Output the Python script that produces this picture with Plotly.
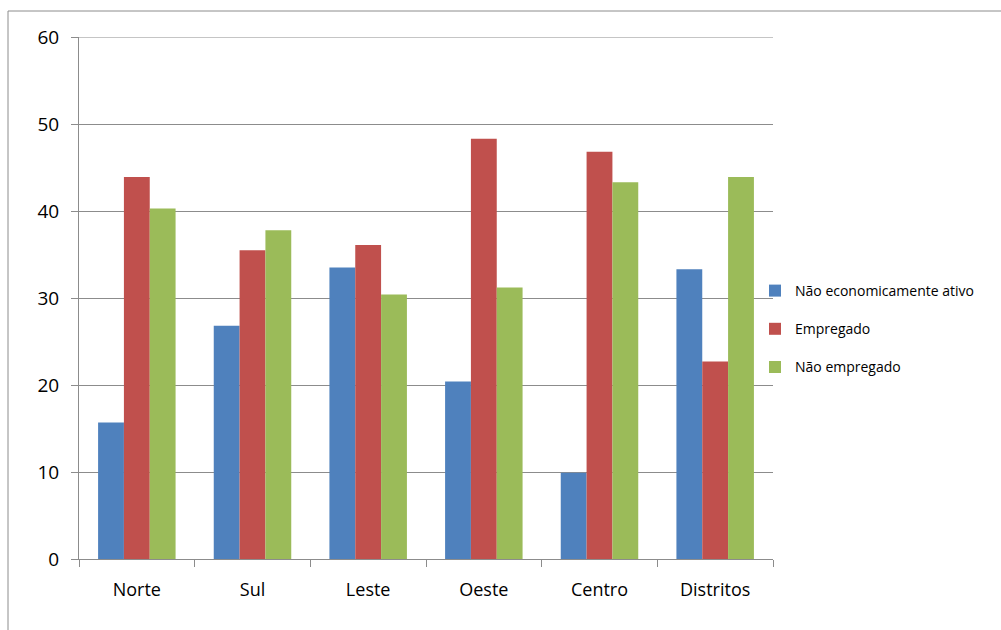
import plotly.graph_objects as go

categories = ["Norte", "Sul", "Leste", "Oeste", "Centro", "Distritos"]
nao_econ_ativo = [15.7, 26.8, 33.5, 20.4, 9.9, 33.3]
empregado = [43.9, 35.5, 36.1, 48.3, 46.8, 22.7]
nao_empregado = [40.3, 37.8, 30.4, 31.2, 43.3, 43.9]
y_ticks = [0, 10, 20, 30, 40, 50, 60]

series = [
    ("Não economicamente ativo", nao_econ_ativo, "#4F81BD"),
    ("Empregado", empregado, "#C0504D"),
    ("Não empregado", nao_empregado, "#9BBB59"),
]

fig = go.Figure()
for i, (name, vals, color) in enumerate(series):
    fig.add_trace(go.Bar(
        x=categories, y=vals, name=name,
        marker=dict(color=color, line=dict(width=0)),
        legendgroup=f"g{i}",
    ))

W, H = 1001, 630
L, R, T, B = 79, 228, 37, 71
pw, ph = W - L - R, H - T - B

def px_x(x):
    return (x - L) / pw

def px_y(y):
    return (H - B - y) / ph

GRID = "#8C8C8C"

fig.update_layout(
    width=W, height=H,
    margin=dict(l=L, r=R, t=T, b=B),
    paper_bgcolor="white", plot_bgcolor="white",
    barmode="group", bargap=0.33, bargroupgap=0,
    font=dict(family="Open Sans, sans-serif", color="#000000"),
    legend=dict(
        x=px_x(755), y=px_y(275), xanchor="left", yanchor="top",
        font=dict(size=14, color="#000000"),
        tracegroupgap=17, itemwidth=30,
        bgcolor="rgba(0,0,0,0)",
    ),
    xaxis=dict(
        type="category",
        showline=True, linecolor=GRID, linewidth=1,
        ticks="outside", tickson="boundaries", ticklen=7, tickcolor=GRID,
        tickfont=dict(size=18), showgrid=False, ticklabelstandoff=14,
    ),
    yaxis=dict(
        range=[0, 60], tickvals=y_ticks,
        showline=True, linecolor=GRID, linewidth=1,
        ticks="outside", ticklen=7, tickcolor=GRID,
        showgrid=True, gridcolor=GRID, gridwidth=1,
        tickfont=dict(size=19), zeroline=False, ticklabelstandoff=8,
    ),
    shapes=[
        # top gridline at the axis maximum
        dict(type="line", xref="paper", yref="y",
             x0=0, x1=1, y0=60, y1=60,
             line=dict(color=GRID, width=1)),
        # chart-area frame (top and left edges visible)
        dict(type="line", xref="paper", yref="paper",
             x0=px_x(8), x1=px_x(1010), y0=px_y(11), y1=px_y(11),
             line=dict(color=GRID, width=1)),
        dict(type="line", xref="paper", yref="paper",
             x0=px_x(8), x1=px_x(8), y0=px_y(11), y1=px_y(640),
             line=dict(color=GRID, width=1)),
    ],
)

fig.write_html("out.html")
